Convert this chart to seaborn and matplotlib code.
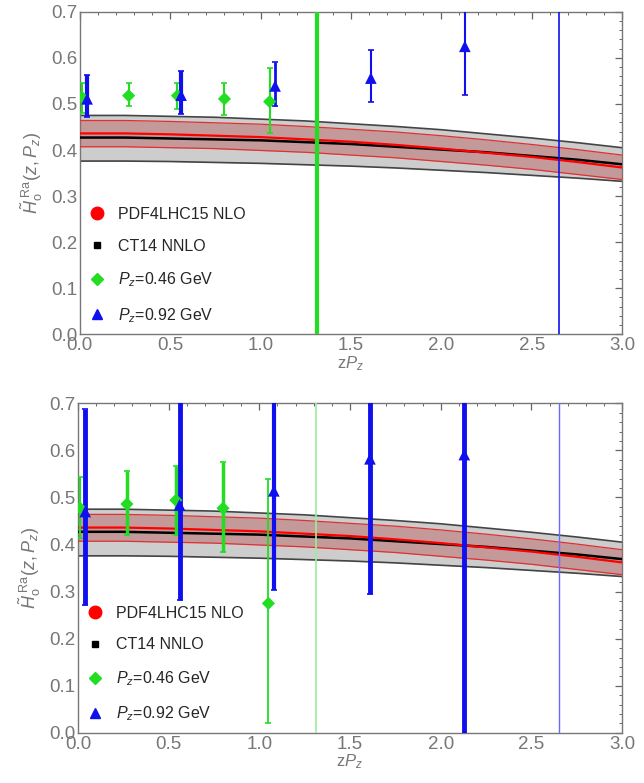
import numpy as np
import pandas as pd
import seaborn as sns
import matplotlib.pyplot as plt
from matplotlib.lines import Line2D
from matplotlib.ticker import MultipleLocator

# theory curves
zpz = [0.0, 0.25, 0.5, 0.75, 1.0, 1.25, 1.5, 1.75, 2.0, 2.25, 2.5, 2.75, 3.0]
ct14_mid = [0.427, 0.427, 0.425, 0.423, 0.421, 0.417, 0.413, 0.407, 0.401, 0.395, 0.387, 0.379, 0.369]
ct14_hi = [0.475, 0.475, 0.473, 0.471, 0.467, 0.463, 0.457, 0.451, 0.444, 0.435, 0.426, 0.416, 0.405]
ct14_lo = [0.376, 0.376, 0.375, 0.373, 0.371, 0.368, 0.365, 0.361, 0.356, 0.351, 0.345, 0.339, 0.332]
pdf_mid = [0.436, 0.436, 0.434, 0.431, 0.428, 0.423, 0.418, 0.411, 0.403, 0.394, 0.385, 0.374, 0.362]
pdf_hi = [0.464, 0.464, 0.462, 0.459, 0.456, 0.451, 0.445, 0.439, 0.431, 0.422, 0.412, 0.401, 0.389]
pdf_lo = [0.407, 0.407, 0.405, 0.403, 0.399, 0.395, 0.389, 0.383, 0.375, 0.367, 0.358, 0.347, 0.336]

# lattice points
x_046 = [0.01, 0.27, 0.54, 0.80, 1.05, 1.31]
x_092 = [0.04, 0.56, 1.08, 1.61, 2.13, 2.65]

top_046 = [0.515, 0.518, 0.518, 0.511, 0.505, 1.2]
top_046_lo = [0.035, 0.022, 0.029, 0.036, 0.069, 2.0]
top_046_hi = [0.030, 0.028, 0.028, 0.034, 0.074, 2.0]
top_092 = [0.511, 0.519, 0.539, 0.556, 0.625, 1.2]
top_092_lo = [0.040, 0.040, 0.043, 0.051, 0.105, 2.0]
top_092_hi = [0.051, 0.052, 0.052, 0.060, 0.105, 2.0]

bot_046 = [0.478, 0.486, 0.494, 0.477, 0.275, 1.2]
bot_046_lo = [0.064, 0.065, 0.073, 0.093, 0.255, 2.0]
bot_046_hi = [0.065, 0.070, 0.073, 0.099, 0.264, 2.0]
bot_092 = [0.470, 0.484, 0.514, 0.582, 0.591, 1.2]
bot_092_lo = [0.198, 0.201, 0.210, 0.288, 0.700, 2.0]
bot_092_hi = [0.217, 0.300, 0.300, 0.300, 0.300, 2.0]

# drawing styles per point
top_w046 = [1.5, 1.5, 1.5, 1.5, 1.5, 3.0]
top_w092 = [3.0, 3.0, 2.0, 1.5, 1.5, 1.2]
bot_w046 = [1.5, 2.5, 2.5, 2.5, 1.3, 1.2]
bot_w092 = [3.5, 3.5, 3.0, 3.5, 3.5, 1.0]
top_c046 = ['#22dd22'] * 6
bot_c046 = ['#22dd22'] * 5 + ['#99ee99']
top_c092 = ['#1010ee'] * 6
bot_c092 = ['#1010ee'] * 5 + ['#6a6aff']

GREEN = '#22dd22'
BLUE = '#1010ee'
sns.set_style('white')
plt.rcParams['font.family'] = ['Liberation Sans', 'DejaVu Sans']
plt.rcParams['mathtext.fontset'] = 'custom'
plt.rcParams['mathtext.rm'] = 'Liberation Sans'
plt.rcParams['mathtext.it'] = 'Liberation Sans:italic'

curves = pd.DataFrame({'zPz': zpz, 'ct14': ct14_mid, 'pdf': pdf_mid})

fig = plt.figure(figsize=(6.44, 7.83), dpi=100)
ax_top = fig.add_axes([0.124, 0.573, 0.842, 0.412])
ax_bot = fig.add_axes([0.121, 0.064, 0.845, 0.421])


def draw_panel(ax, y46, lo46, hi46, w46, c46, y92, lo92, hi92, w92, c92):
    ax.fill_between(zpz, ct14_lo, ct14_hi, color='#cdcdcd', lw=0, zorder=1)
    ax.plot(zpz, ct14_lo, color='#444444', lw=1.2, zorder=2)
    ax.plot(zpz, ct14_hi, color='#444444', lw=1.2, zorder=2)
    ax.fill_between(zpz, pdf_lo, pdf_hi, color='#b85a5a', alpha=0.45, lw=0, zorder=3)
    ax.plot(zpz, pdf_lo, color='#e03030', lw=0.9, zorder=4)
    ax.plot(zpz, pdf_hi, color='#e03030', lw=0.9, zorder=4)
    sns.lineplot(data=curves, x='zPz', y='ct14', color='black', lw=1.8, ax=ax, zorder=5)
    sns.lineplot(data=curves, x='zPz', y='pdf', color='red', lw=1.6, ax=ax, zorder=6)

    for i in range(len(x_046)):
        ax.errorbar([x_046[i]], [y46[i]], yerr=[[lo46[i]], [hi46[i]]], fmt='none',
                    ecolor=c46[i], elinewidth=w46[i], capsize=2.5, capthick=1.2, zorder=7)
    for i in range(len(x_092)):
        ax.errorbar([x_092[i]], [y92[i]], yerr=[[lo92[i]], [hi92[i]]], fmt='none',
                    ecolor=c92[i], elinewidth=w92[i], capsize=2.5, capthick=1.2, zorder=8)
    sns.scatterplot(x=x_046, y=y46, marker='D', color=GREEN, s=45, edgecolor='none', ax=ax, zorder=9)
    sns.scatterplot(x=x_092, y=y92, marker='^', color=BLUE, s=70, edgecolor='none', ax=ax, zorder=10)

    ax.set_xlim(0, 3.0)
    ax.set_ylim(0, 0.7)
    ax.xaxis.set_major_locator(MultipleLocator(0.5))
    ax.xaxis.set_minor_locator(MultipleLocator(0.1))
    ax.yaxis.set_major_locator(MultipleLocator(0.1))
    ax.yaxis.set_minor_locator(MultipleLocator(0.02))
    ax.tick_params(which='both', direction='in', top=True, right=True, colors='#666666',
                   labelsize=13.5, labelcolor='#777777', pad=2)
    ax.tick_params(which='major', length=5, width=0.9)
    ax.tick_params(which='minor', length=2.5, width=0.7)
    ax.xaxis.set_major_formatter(plt.FuncFormatter(lambda v, p: f'{v:.1f}'))
    ax.yaxis.set_major_formatter(plt.FuncFormatter(lambda v, p: f'{v:.1f}'))
    for sp in ax.spines.values():
        sp.set_color('#777777')
        sp.set_linewidth(1.0)
    ax.set_xlabel(r'z$P_z$', fontsize=12, color='#777777', labelpad=0)
    ax.set_ylabel(r'$\tilde{H}_{\rm o}^{\ \rm Ra}(z,P_z)$', fontsize=13, color='#777777', labelpad=4)

    handles = [
        Line2D([], [], marker='o', color='red', ls='none', markersize=9),
        Line2D([], [], marker='s', color='black', ls='none', markersize=5),
        Line2D([], [], marker='D', color=GREEN, ls='none', markersize=6),
        Line2D([], [], marker='^', color=BLUE, ls='none', markersize=7),
    ]
    labels = ['PDF4LHC15 NLO', 'CT14 NNLO', r'$P_z$=0.46 GeV', r'$P_z$=0.92 GeV']
    ax.legend(handles, labels, loc='lower left', bbox_to_anchor=(-0.015, 0.0), frameon=False,
              fontsize=11.5, labelspacing=1.05, handletextpad=0.3, borderaxespad=0.2)


draw_panel(ax_top, top_046, top_046_lo, top_046_hi, top_w046, top_c046,
           top_092, top_092_lo, top_092_hi, top_w092, top_c092)
draw_panel(ax_bot, bot_046, bot_046_lo, bot_046_hi, bot_w046, bot_c046,
           bot_092, bot_092_lo, bot_092_hi, bot_w092, bot_c092)

fig.savefig('out.png', dpi=100)
